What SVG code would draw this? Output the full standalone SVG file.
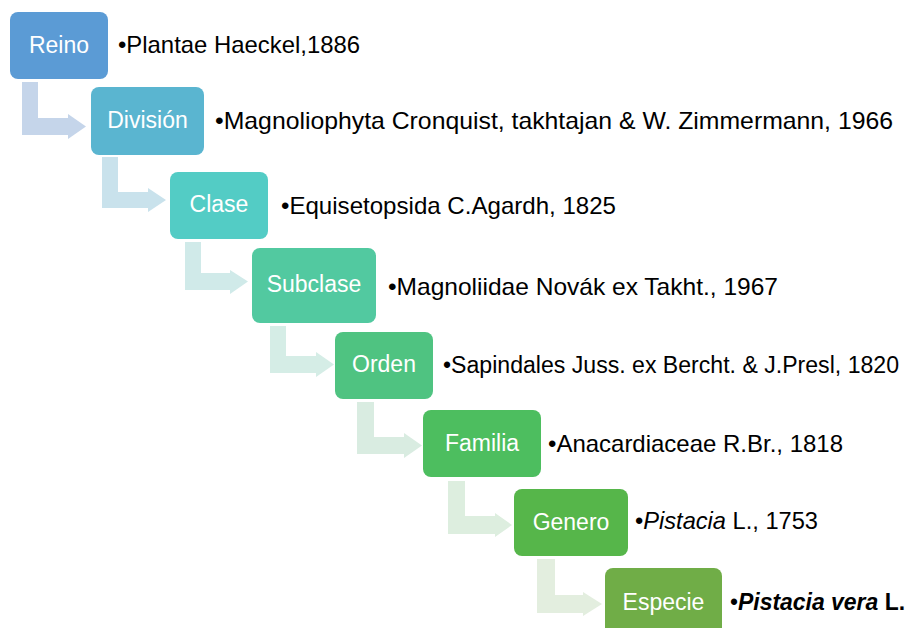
<svg xmlns="http://www.w3.org/2000/svg" width="910" height="628" viewBox="0 0 910 628">
<style>
.box{stroke:none}
.lbl{font-family:"Liberation Sans",Arial,sans-serif;font-size:23px;fill:#ffffff;text-anchor:middle}
.desc{font-family:"Liberation Sans",Arial,sans-serif;font-size:24px;fill:#000000}
.it{font-style:italic}
.bi{font-style:italic;font-weight:bold}
.b{font-weight:bold}
</style>
<rect width="910" height="628" fill="#ffffff"/>
<g id="connectors">
<polygon fill="#C5D5EA" points="22,82 38,82 38,118 68,118 68,114 86,126.5 68,139 68,135 22,135"/>
<polygon fill="#C9E2EC" points="102,157 118,157 118,192 148,192 148,188 166,200 148,212 148,208 102,208"/>
<polygon fill="#D0EAE9" points="185,242 201,242 201,273 230,273 230,270 248,281.5 230,294 230,290 185,290"/>
<polygon fill="#D5EDE6" points="270,326 286,326 286,356 316,356 316,352 334,364.5 316,377 316,373 270,373"/>
<polygon fill="#D9ECE1" points="357,402 374,402 374,437 404,437 404,433 422,445.5 404,458 404,454 357,454"/>
<polygon fill="#DDEEDF" points="448,481 465,481 465,516 495,516 495,513 512,525 495,537 495,534 448,534"/>
<polygon fill="#E3EEDF" points="537,559 555,559 555,595 583,595 583,592 602,604 583,616 583,613 537,613"/>
</g>
<g id="reino">
<rect class="box" x="10" y="12" width="98" height="67" rx="8" fill="#5B9BD5"/>
<text class="lbl" x="59" y="53">Reino</text>
<text class="desc" x="118" y="53" textLength="242" lengthAdjust="spacingAndGlyphs">•Plantae Haeckel,1886</text>
</g>
<g id="division">
<rect class="box" x="91" y="87" width="113" height="68" rx="8" fill="#5AB5D0"/>
<text class="lbl" x="147.5" y="128">División</text>
<text class="desc" x="215" y="129" textLength="678" lengthAdjust="spacingAndGlyphs">•Magnoliophyta Cronquist, takhtajan &amp; W. Zimmermann, 1966</text>
</g>
<g id="clase">
<rect class="box" x="170" y="172" width="98" height="67" rx="8" fill="#53CCC5"/>
<text class="lbl" x="219" y="212">Clase</text>
<text class="desc" x="281" y="214" textLength="335" lengthAdjust="spacingAndGlyphs">•Equisetopsida C.Agardh, 1825</text>
</g>
<g id="subclase">
<rect class="box" x="252" y="248" width="124" height="75" rx="8" fill="#52C9A0"/>
<text class="lbl" x="314" y="292">Subclase</text>
<text class="desc" x="388" y="295" textLength="390" lengthAdjust="spacingAndGlyphs">•Magnoliidae Novák ex Takht., 1967</text>
</g>
<g id="orden">
<rect class="box" x="335" y="332" width="98" height="67" rx="8" fill="#4FC381"/>
<text class="lbl" x="384" y="372">Orden</text>
<text class="desc" x="443" y="373" style="font-size:23px" textLength="456" lengthAdjust="spacingAndGlyphs">•Sapindales Juss. ex Bercht. &amp; J.Presl, 1820</text>
</g>
<g id="familia">
<rect class="box" x="423" y="410" width="118" height="67" rx="8" fill="#4DBE5F"/>
<text class="lbl" x="482" y="451">Familia</text>
<text class="desc" x="548" y="452" textLength="295" lengthAdjust="spacingAndGlyphs">•Anacardiaceae R.Br., 1818</text>
</g>
<g id="genero">
<rect class="box" x="514" y="489" width="114" height="67" rx="8" fill="#56B64A"/>
<text class="lbl" x="571" y="530">Genero</text>
<text class="desc" x="635" y="529" textLength="183" lengthAdjust="spacingAndGlyphs">•<tspan class="it">Pistacia</tspan> L., 1753</text>
</g>
<g id="especie">
<rect class="box" x="605" y="568" width="117" height="70" rx="8" fill="#70AD47"/>
<text class="lbl" x="663.5" y="610">Especie</text>
<text class="desc" x="730" y="610" textLength="175" lengthAdjust="spacingAndGlyphs">•<tspan class="bi">Pistacia vera</tspan> <tspan class="b">L.</tspan></text>
</g>
</svg>
